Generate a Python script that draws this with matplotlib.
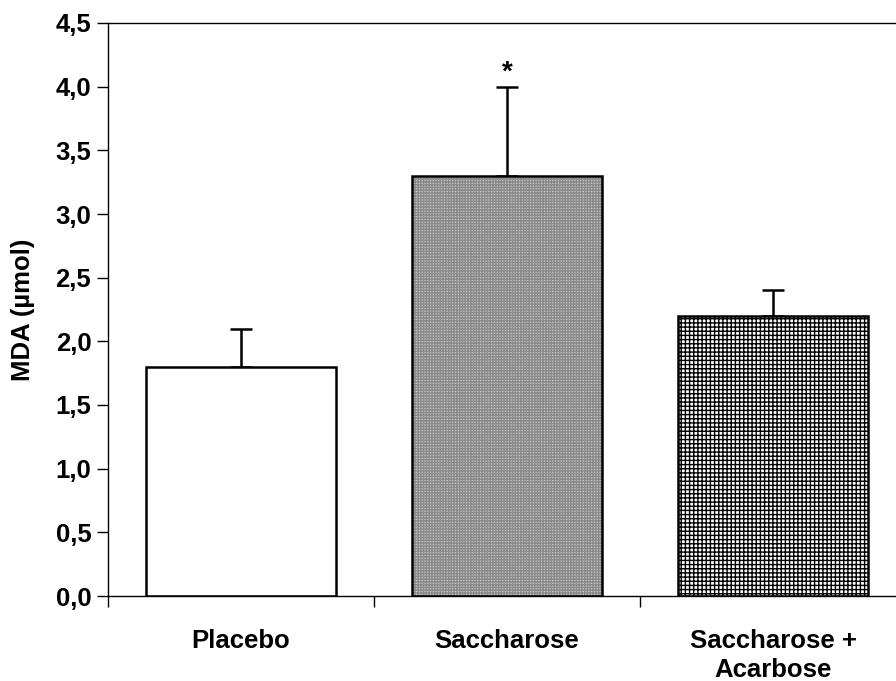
import numpy as np
import matplotlib
matplotlib.use("Agg")
import matplotlib.pyplot as plt
from matplotlib.ticker import FuncFormatter

groups = ["Placebo", "Saccharose", "Saccharose +\nAcarbose"]
mda = [1.8, 3.3, 2.2]
sem = [0.3, 0.7, 0.2]
signif = ["", "*", ""]

plt.rcParams["font.family"] = ["Liberation Sans", "DejaVu Sans"]
plt.rcParams["font.weight"] = "bold"
plt.rcParams["hatch.linewidth"] = 1.0

fig = plt.figure(figsize=(8.96, 6.81), dpi=100)
ax = fig.add_axes([108 / 896, 85 / 681, 798 / 896, 573 / 681])

x = np.arange(len(groups))
w = 0.715

# fill patterns: plain, fine grey stipple, black grid
faces = ["white", "#c6c6c6", "white"]
hatches = [None, "++++++", "++++"]
hatch_cols = ["white", "#8a8a8a", "black"]
for xi, val, fc, h, hc in zip(x, mda, faces, hatches, hatch_cols):
    ax.bar(xi, val, w, color=fc, hatch=h, edgecolor=hc, linewidth=0, zorder=2)
    ax.bar(xi, val, w, fill=False, edgecolor="black", linewidth=1.8, zorder=3)

ax.errorbar(x, mda, yerr=[np.zeros(len(sem)), sem], fmt="none", ecolor="black",
            elinewidth=1.8, capsize=8, capthick=1.8, zorder=1)

for xi, val, err, s in zip(x, mda, sem, signif):
    if s:
        ax.text(xi, val + err + 0.01, s, ha="center", va="bottom", fontsize=20,
                fontweight="bold")

ax.set_xlim(-0.5, 2.5)
ax.set_ylim(0, 4.5)
ax.set_yticks(np.arange(0, 4.51, 0.5))
ax.yaxis.set_major_formatter(FuncFormatter(lambda v, p: f"{v:.1f}".replace(".", ",")))
ax.set_xticks([-0.5, 0.5, 1.5])
ax.set_xticklabels([])
ax.tick_params(axis="both", direction="out", length=8, width=1, labelsize=18.5)
ax.tick_params(axis="y", pad=4)

for xi, g in zip(x, groups):
    ax.text(xi, -0.26, g, ha="center", va="top", fontsize=18.5, fontweight="bold",
            linespacing=1.28)

for sp in ax.spines.values():
    sp.set_linewidth(1)

ax.set_ylabel("MDA (\u00b5mol)", fontsize=18.5, fontweight="bold", labelpad=15)

fig.savefig("out.png", dpi=100)
